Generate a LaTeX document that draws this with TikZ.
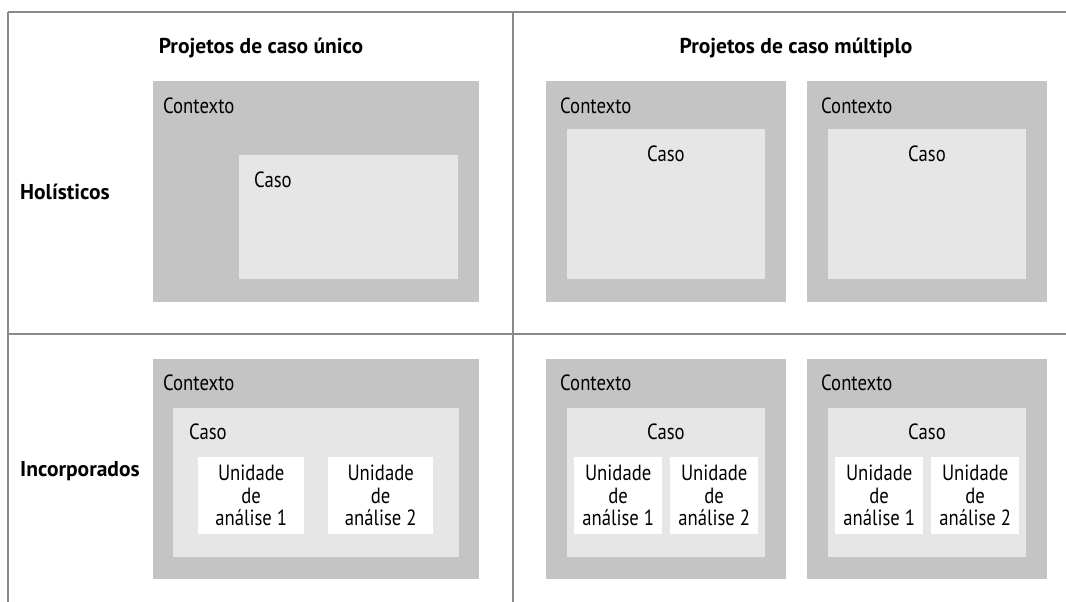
\documentclass[tikz,border=0pt]{standalone}
\usepackage{fontspec}
\setmainfont{PT Sans}
\newfontfamily\condfont[FakeStretch=0.85]{PT Sans}
\usetikzlibrary{positioning}

\definecolor{ctxgray}{RGB}{196,196,196}
\definecolor{casegray}{RGB}{230,230,230}
\definecolor{rulegray}{RGB}{138,138,138}

\tikzset{
    ctxbox/.style={fill=ctxgray, draw=none, inner sep=0pt, anchor=north west},
    casebox/.style={fill=casegray, draw=none, inner sep=0pt, anchor=north west},
    unitbox/.style={fill=white, draw=none, inner sep=0pt, anchor=north west,
        align=center, font=\condfont\fontsize{22}{22.5}\selectfont},
    txt/.style={inner sep=0pt, font=\condfont\fontsize{22}{22}\selectfont},
    head/.style={inner sep=0pt, font=\fontsize{21.5}{22}\selectfont\bfseries},
    rule/.style={draw=rulegray, line width=2pt},
}

\begin{document}
\begin{tikzpicture}[x=1pt, y=-1pt]
    \useasboundingbox (0,0) rectangle (1066,602);

    % grid
    \coordinate (tl) at (8,12);
    \coordinate (tr) at (1066,12);
    \coordinate (bl) at (8,602);
    \coordinate (mt) at (513,12);
    \coordinate (mb) at (513,602);
    \coordinate (ml) at (8,334);
    \coordinate (mr) at (1066,334);
    \draw[rule] (tl) -- (tr);
    \draw[rule] (tl) -- (bl);
    \draw[rule] (mt) -- (mb);
    \draw[rule] (ml) -- (mr);

    % headings
    \node[head] (single) at (261,48) {Projetos de caso único};
    \node[head] (multi) at (796,48) {Projetos de caso múltiplo};
    \node[head, anchor=west] (holist) at (20,192) {Holísticos};
    \node[head, anchor=west] (embed) at (20,471) {Incorporados};

    % holistic, single
    \node[ctxbox, minimum width=326, minimum height=221] (C1) at (153,81) {};
    \node[txt, anchor=west] (C1t) at (163,106) {Contexto};
    \node[casebox, minimum width=219, minimum height=124] (K1) at (239,155) {};
    \node[txt, anchor=west] (K1t) at (254,180) {Caso};

    % holistic, multiple
    \foreach \x [count=\i] in {546,807} {
        \node[ctxbox, minimum width=240, minimum height=221] (C2\i) at (\x,81) {};
        \node[txt, anchor=west] (C2\i t) at (\x+14,106) {Contexto};
        \node[casebox, minimum width=198, minimum height=150] (K2\i) at (\x+21,129) {};
        \node[txt] (K2\i t) at (\x+120,154) {Caso};
    }

    % embedded, single
    \node[ctxbox, minimum width=326, minimum height=220] (C3) at (153,359) {};
    \node[txt, anchor=west] (C3t) at (163,383) {Contexto};
    \node[casebox, minimum width=286, minimum height=149] (K3) at (173,408) {};
    \node[txt, anchor=west] (K3t) at (189,432) {Caso};
    \node[unitbox, minimum width=106, minimum height=77] (U31) at (198,457) {Unidade\\de\\análise 1};
    \node[unitbox, minimum width=105, minimum height=77] (U32) at (328,457) {Unidade\\de\\análise 2};

    % embedded, multiple
    \foreach \x [count=\i] in {546,807} {
        \node[ctxbox, minimum width=240, minimum height=220] (C4\i) at (\x,359) {};
        \node[txt, anchor=west] (C4\i t) at (\x+14,383) {Contexto};
        \node[casebox, minimum width=198, minimum height=149] (K4\i) at (\x+21,408) {};
        \node[txt] (K4\i t) at (\x+120,432) {Caso};
        \node[unitbox, minimum width=88, minimum height=77] (U4\i a) at (\x+28,457) {Unidade\\de\\análise 1};
        \node[unitbox, minimum width=88, minimum height=77] (U4\i b) at (\x+124,457) {Unidade\\de\\análise 2};
    }
\end{tikzpicture}
\end{document}
